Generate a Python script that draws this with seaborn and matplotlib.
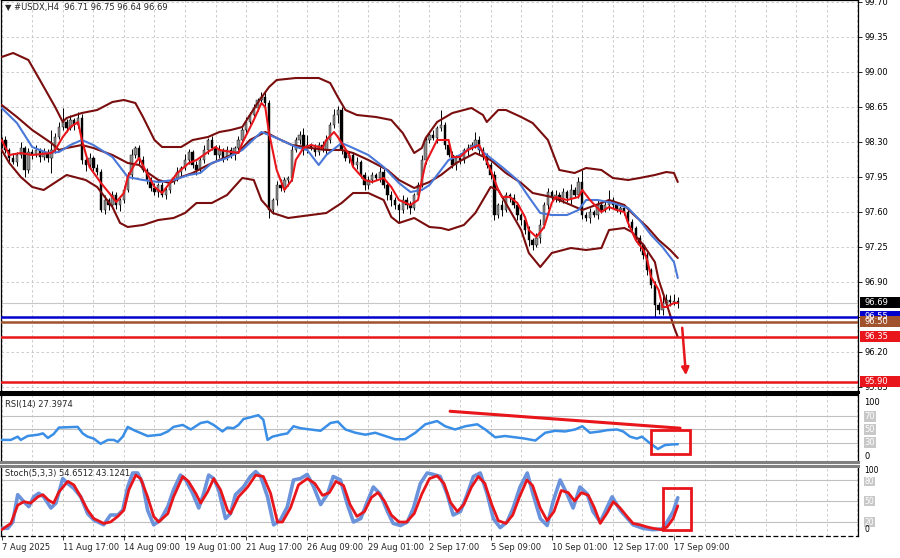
import numpy as np
import pandas as pd
import matplotlib
matplotlib.use("Agg")
import matplotlib.pyplot as plt
import seaborn as sns
from matplotlib.patches import Rectangle
from matplotlib.transforms import blended_transform_factory

# H4 closes, one per bar, 7 Aug 01:00 .. 17 Sep 13:00
closes = [
    98.32, 98.22, 98.14, 98.10, 98.17, 98.24, 98.02, 98.20,
    98.17, 98.22, 98.15, 98.20, 98.14, 98.22, 98.35, 98.45,
    98.50, 98.44, 98.52, 98.47, 98.54, 98.12, 98.07, 98.14,
    98.04, 98.00, 97.62, 97.72, 97.67, 97.77, 97.67, 97.72,
    97.82, 97.97, 98.17, 98.24, 98.12, 98.02, 97.92, 97.84,
    97.80, 97.87, 97.77, 97.82, 97.90, 97.94, 98.00, 98.04,
    98.12, 98.20, 98.07, 98.02, 98.12, 98.22, 98.32, 98.24,
    98.17, 98.22, 98.14, 98.22, 98.17, 98.24, 98.32, 98.42,
    98.50, 98.57, 98.64, 98.72, 98.75, 98.69, 97.62, 97.72,
    97.87, 97.84, 97.92, 97.94, 98.22, 98.32, 98.37, 98.22,
    98.27, 98.24, 98.20, 98.27, 98.22, 98.32, 98.47, 98.57,
    98.62, 98.22, 98.14, 98.17, 98.07, 98.10, 97.97, 97.87,
    97.92, 97.97, 97.94, 98.00, 97.87, 97.77, 97.72, 97.67,
    97.62, 97.72, 97.67, 97.64, 97.77, 97.87, 98.12, 98.32,
    98.37, 98.34, 98.44, 98.47, 98.27, 98.17, 98.07, 98.14,
    98.12, 98.22, 98.24, 98.27, 98.32, 98.22, 98.17, 98.07,
    97.97, 97.57, 97.67, 97.62, 97.77, 97.74, 97.67, 97.57,
    97.52, 97.42, 97.32, 97.27, 97.34, 97.47, 97.67, 97.80,
    97.74, 97.77, 97.72, 97.80, 97.74, 97.82, 97.77, 97.90,
    97.57, 97.54, 97.60, 97.57, 97.67, 97.62, 97.67, 97.72,
    97.67, 97.62, 97.64, 97.60, 97.50, 97.44, 97.34, 97.27,
    97.17, 97.02, 96.87, 96.67, 96.62, 96.69, 96.72, 96.70,
    96.71, 96.69,
]
first_open = 98.28
# wick lengths in hundredths
up_wick = [
    3, 4, 2, 5, 3, 6, 2, 4,
    3, 5, 2, 4, 3, 20, 4, 5,
    14, 3, 5, 2, 6, 4, 3, 5,
    2, 4, 3, 5, 2, 4, 3, 2,
    4, 3, 6, 2, 3, 4, 2, 3,
    5, 2, 3, 4, 2, 3, 5, 2,
    6, 3, 2, 4, 3, 5, 2, 4,
    3, 5, 2, 4, 3, 2, 4, 3,
    5, 3, 4, 2, 5, 6, 3, 2,
    4, 6, 3, 2, 5, 3, 4, 7,
    10, 2, 4, 3, 4, 5, 3, 6,
    4, 3, 2, 4, 3, 5, 2, 3,
    4, 3, 2, 5, 3, 2, 4, 3,
    2, 5, 3, 4, 2, 3, 5, 4,
    3, 5, 2, 15, 3, 2, 4, 3,
    5, 2, 4, 3, 8, 4, 3, 2,
    3, 4, 2, 5, 3, 2, 4, 3,
    2, 3, 4, 2, 5, 6, 3, 4,
    2, 5, 3, 4, 2, 6, 3, 5,
    12, 3, 4, 2, 5, 3, 4, 10,
    3, 3, 2, 4, 2, 3, 2, 3,
    2, 3, 2, 4, 3, 8, 6, 5,
    7, 4,
]
dn_wick = [
    4, 3, 5, 2, 4, 3, 7, 3,
    4, 2, 5, 3, 4, 15, 3, 2,
    3, 4, 2, 5, 3, 4, 6, 3,
    4, 3, 2, 4, 5, 3, 4, 6,
    3, 2, 4, 3, 5, 2, 4, 3,
    3, 5, 2, 4, 3, 2, 3, 4,
    2, 4, 3, 5, 2, 3, 4, 2,
    5, 3, 4, 2, 3, 5, 2, 4,
    3, 2, 4, 3, 2, 3, 8, 4,
    5, 3, 4, 6, 3, 2, 4, 5,
    3, 2, 4, 3, 2, 4, 3, 3,
    8, 4, 3, 5, 2, 4, 3, 5,
    4, 3, 2, 4, 3, 5, 6, 4,
    12, 3, 4, 6, 2, 3, 2, 4,
    3, 2, 5, 3, 4, 2, 3, 5,
    4, 3, 6, 2, 3, 4, 5, 3,
    4, 5, 3, 6, 2, 4, 3, 5,
    5, 4, 6, 5, 2, 5, 3, 4,
    3, 4, 2, 3, 4, 6, 2, 3,
    4, 3, 5, 2, 4, 3, 2, 5,
    3, 2, 4, 3, 5, 3, 4, 6,
    4, 5, 3, 12, 4, 5, 3, 4,
    3, 5,
]

# indicator lines: (bar, value)
bb_upper = [(0, 99.15), (3, 99.19), (7, 99.12), (10, 98.92), (14, 98.65), (16, 98.50), (17, 98.54),
            (21, 98.59), (25, 98.62), (29, 98.70), (32, 98.72), (35, 98.69), (37, 98.55), (40, 98.32),
            (42, 98.25), (47, 98.25), (50, 98.32), (54, 98.35), (57, 98.40), (60, 98.42), (63, 98.45),
            (67, 98.69), (70, 98.85), (72, 98.92), (77, 98.94), (83, 98.94), (86, 98.89), (88, 98.75),
            (90, 98.62), (93, 98.57), (98, 98.55), (102, 98.52), (105, 98.39), (108, 98.19), (110, 98.24),
            (111, 98.34), (114, 98.50), (118, 98.59), (123, 98.64), (126, 98.57), (127, 98.50),
            (130, 98.62), (132, 98.62), (136, 98.55), (139, 98.49), (143, 98.32), (146, 98.02),
            (150, 97.99), (153, 98.04), (157, 98.02), (160, 97.94), (164, 97.92), (167, 97.94),
            (171, 97.97), (174, 98.00), (176, 97.99), (177, 97.90)]
bb_middle = [(0, 98.67), (4, 98.55), (8, 98.42), (13, 98.29), (15, 98.22), (17, 98.24), (21, 98.27),
             (24, 98.24), (29, 98.17), (33, 98.09), (36, 98.07), (38, 98.00), (41, 97.92), (44, 97.89),
             (47, 97.95), (50, 97.99), (54, 98.07), (57, 98.12), (62, 98.20), (65, 98.32), (69, 98.40),
             (72, 98.34), (76, 98.27), (81, 98.24), (85, 98.22), (89, 98.22), (92, 98.19), (96, 98.12),
             (101, 98.02), (104, 97.92), (108, 97.84), (110, 97.87), (112, 97.90), (115, 97.97),
             (119, 98.09), (124, 98.19), (128, 98.12), (132, 97.99), (136, 97.89), (139, 97.79),
             (144, 97.75), (149, 97.67), (152, 97.62), (157, 97.69), (159, 97.72), (163, 97.67),
             (165, 97.59), (169, 97.45), (172, 97.32), (175, 97.22), (177, 97.14)]
bb_lower = [(0, 98.22), (2, 98.09), (5, 97.95), (8, 97.85), (11, 97.82), (15, 97.92), (17, 97.97),
            (22, 97.92), (25, 97.85), (29, 97.65), (31, 97.49), (33, 97.45), (37, 97.47), (41, 97.52),
            (45, 97.54), (48, 97.59), (51, 97.69), (55, 97.69), (59, 97.77), (63, 97.94), (66, 97.92),
            (68, 97.72), (71, 97.59), (75, 97.54), (81, 97.57), (85, 97.59), (89, 97.69), (92, 97.79),
            (96, 97.79), (100, 97.72), (102, 97.55), (104, 97.49), (108, 97.54), (112, 97.45),
            (115, 97.44), (117, 97.42), (121, 97.47), (124, 97.59), (128, 97.85), (130, 97.82),
            (133, 97.62), (136, 97.42), (138, 97.19), (141, 97.05), (144, 97.19), (149, 97.24),
            (153, 97.22), (157, 97.24), (159, 97.42), (163, 97.44), (165, 97.40), (168, 97.27),
            (171, 97.10), (172, 96.92), (174, 96.69), (176, 96.45), (177, 96.35)]
ma_fast = [(0, 98.32), (2, 98.17), (5, 98.19), (8, 98.17), (13, 98.19), (14, 98.22), (16, 98.35),
           (18, 98.45), (20, 98.50), (21, 98.32), (23, 98.05), (26, 97.89), (29, 97.75), (30, 97.70),
           (32, 97.79), (33, 97.95), (35, 98.09), (36, 98.14), (38, 97.99), (40, 97.85), (42, 97.79),
           (44, 97.89), (46, 97.99), (49, 98.09), (51, 98.12), (54, 98.20), (56, 98.25), (57, 98.22),
           (62, 98.19), (63, 98.29), (66, 98.52), (68, 98.69), (69, 98.65), (70, 98.39), (72, 98.02),
           (74, 97.82), (76, 97.92), (77, 98.12), (79, 98.24), (81, 98.27), (84, 98.24), (85, 98.32),
           (87, 98.40), (88, 98.35), (91, 98.17), (92, 98.05), (95, 97.92), (97, 97.90), (100, 97.94),
           (102, 97.85), (104, 97.72), (107, 97.67), (109, 97.72), (110, 97.92), (111, 98.09),
           (114, 98.32), (117, 98.32), (118, 98.15), (120, 98.15), (122, 98.22), (125, 98.27),
           (126, 98.19), (128, 98.02), (130, 97.82), (131, 97.75), (133, 97.75), (135, 97.69),
           (137, 97.55), (138, 97.42), (140, 97.35), (142, 97.45), (144, 97.69), (145, 97.75),
           (148, 97.72), (151, 97.75), (152, 97.82), (154, 97.72), (156, 97.64), (157, 97.60),
           (159, 97.65), (161, 97.62), (163, 97.60), (164, 97.49), (166, 97.32), (168, 97.22),
           (169, 97.12), (170, 96.95), (172, 96.82), (173, 96.65), (174, 96.65), (176, 96.69),
           (177, 96.69)]
ma_slow = [(0, 98.64), (4, 98.49), (8, 98.25), (12, 98.19), (15, 98.20), (18, 98.27), (21, 98.32),
           (24, 98.27), (29, 98.15), (33, 97.95), (37, 97.92), (41, 97.90), (45, 97.92), (49, 97.97),
           (52, 97.99), (55, 98.09), (59, 98.14), (63, 98.22), (68, 98.40), (72, 98.34), (77, 98.25),
           (80, 98.22), (83, 98.07), (85, 98.17), (89, 98.29), (92, 98.24), (96, 98.17), (100, 98.05),
           (104, 97.89), (107, 97.80), (110, 97.82), (112, 97.87), (117, 98.12), (120, 98.17),
           (124, 98.27), (126, 98.20), (131, 98.05), (135, 97.92), (138, 97.75), (141, 97.59),
           (144, 97.57), (148, 97.57), (151, 97.62), (153, 97.72), (156, 97.72), (160, 97.69),
           (164, 97.64), (167, 97.52), (170, 97.37), (173, 97.25), (176, 97.10), (177, 96.94)]

rsi = [(0, 34), (2.4, 34), (4.2, 39), (5.0, 34), (6.8, 40), (9.5, 42), (10.8, 44), (12.1, 37),
       (13.6, 43), (15.0, 53), (19.9, 54), (21.2, 44), (22.5, 39), (24.1, 36), (25.9, 28), (27.8, 34),
       (29.3, 34), (30.4, 31), (31.7, 39), (33.0, 54), (34.6, 49), (38.2, 40), (41.6, 42), (43.5, 47),
       (45.0, 54), (47.4, 57), (49.5, 50), (52.1, 60), (53.9, 62), (55.5, 57), (57.8, 47), (59.1, 53),
       (60.7, 52), (62.0, 57), (63.3, 66), (65.9, 70), (67.2, 72), (68.5, 65), (69.6, 34), (70.9, 39),
       (73.0, 42), (74.8, 44), (76.4, 55), (78.2, 52), (80.8, 50), (83.5, 48), (86.1, 60), (88.0, 62),
       (90.0, 50), (92.6, 45), (95.2, 42), (97.8, 45), (100.4, 40), (103.0, 35), (105.6, 35),
       (108.3, 45), (110.9, 58), (114.0, 63), (116.1, 55), (118.7, 50), (121.4, 55), (124.5, 58),
       (126.6, 50), (129.2, 38), (131.8, 40), (134.4, 38), (137.0, 36), (139.7, 33), (142.3, 45),
       (144.9, 48), (147.5, 47), (150.1, 50), (152.0, 55), (154.0, 45), (156.7, 47), (158.5, 49),
       (161.1, 50), (162.7, 47), (164.5, 39), (166.3, 36), (167.6, 39), (169.7, 29), (171.8, 20),
       (173.6, 26), (175.5, 27), (177.0, 27.4)]
stoch_k = [(0, 11), (1.6, 11), (2.9, 20), (4.2, 59), (5.8, 49), (7.1, 42), (8.4, 56), (9.7, 61),
           (11.0, 56), (12.9, 40), (14.2, 47), (16.0, 82), (17.3, 75), (18.9, 68), (20.7, 56),
           (22.5, 32), (24.1, 23), (26.7, 16), (28.5, 30), (30.4, 30), (31.7, 37), (33.0, 70),
           (34.3, 90), (35.6, 90), (36.9, 75), (38.2, 37), (39.8, 16), (41.6, 23), (43.5, 42),
           (45.0, 66), (46.8, 87), (48.2, 80), (50.0, 61), (51.6, 40), (52.9, 61), (54.2, 87),
           (55.5, 82), (56.8, 66), (58.6, 25), (59.9, 32), (61.2, 59), (63.3, 70), (65.1, 85),
           (66.5, 92), (67.8, 85), (69.6, 56), (71.2, 16), (73.0, 23), (74.8, 42), (76.4, 80),
           (78.2, 82), (80.0, 88), (81.7, 70), (83.5, 45), (85.3, 60), (86.8, 85), (88.7, 80),
           (90.5, 45), (92.1, 20), (94.0, 25), (95.8, 50), (97.3, 70), (99.1, 60), (101.0, 35),
           (102.5, 18), (104.4, 15), (106.2, 20), (107.8, 40), (109.6, 75), (111.4, 90), (113.0, 88),
           (114.8, 85), (116.6, 60), (118.2, 30), (120.1, 35), (121.9, 60), (123.5, 85), (125.3, 90),
           (127.1, 60), (128.7, 25), (130.5, 12), (132.3, 20), (133.9, 40), (135.7, 70), (137.6, 90),
           (139.1, 60), (141.0, 25), (142.8, 15), (144.4, 50), (146.2, 80), (148.0, 60), (149.6, 40),
           (151.4, 70), (153.3, 60), (154.8, 35), (156.7, 20), (159.8, 56), (161.9, 37), (165.3, 16),
           (167.9, 11), (170.5, 9), (172.9, 10), (174.2, 20), (175.8, 35), (177.0, 54.65)]
stoch_d = [(0, 9), (2.4, 18), (4.2, 44), (5.8, 49), (7.6, 47), (9.5, 56), (10.8, 59), (12.3, 51),
           (13.6, 47), (15.0, 63), (17.3, 78), (18.9, 73), (20.7, 56), (22.5, 37), (24.1, 25),
           (26.7, 18), (28.5, 20), (30.4, 28), (32.0, 37), (33.3, 66), (35.1, 87), (36.4, 82),
           (38.2, 56), (39.8, 28), (41.1, 20), (43.5, 32), (45.0, 56), (47.4, 85), (48.9, 78),
           (50.8, 61), (52.1, 47), (53.9, 63), (55.5, 82), (57.3, 66), (59.1, 37), (59.9, 32),
           (62.0, 56), (64.4, 70), (66.5, 87), (68.5, 85), (70.4, 61), (72.2, 20), (73.5, 20),
           (75.6, 40), (77.7, 73), (80.0, 82), (82.0, 75), (84.0, 58), (85.8, 62), (87.5, 78),
           (89.5, 72), (91.2, 45), (93.0, 28), (95.0, 35), (96.8, 55), (98.5, 62), (100.2, 50),
           (102.0, 30), (104.0, 20), (106.0, 20), (108.0, 32), (110.0, 60), (112.0, 82), (114.0, 86),
           (115.8, 75), (117.5, 48), (119.3, 35), (121.0, 45), (123.0, 70), (124.8, 85), (126.5, 75),
           (128.3, 45), (130.0, 22), (132.0, 18), (133.8, 30), (135.5, 55), (137.5, 80), (139.0, 72),
           (141.0, 40), (142.8, 22), (144.6, 35), (146.5, 65), (148.3, 62), (150.0, 50), (151.8, 62),
           (153.6, 58), (155.2, 40), (156.7, 18), (158.5, 33), (160.1, 49), (161.9, 40), (163.7, 28),
           (165.3, 18), (167.1, 16), (168.9, 13), (170.5, 11), (172.9, 9), (174.2, 13), (175.8, 25),
           (177.0, 43.12)]

price_ticks = [99.70, 99.35, 99.00, 98.65, 98.30, 97.95, 97.60, 97.25, 96.90, 96.55, 96.20, 95.85]
date_labels = ["7 Aug 2025", "11 Aug 17:00", "14 Aug 09:00", "19 Aug 01:00", "21 Aug 17:00",
               "26 Aug 09:00", "29 Aug 01:00", "2 Sep 17:00", "5 Sep 09:00", "10 Sep 01:00",
               "12 Sep 17:00", "17 Sep 09:00"]
levels = {96.55: "#0000cd", 96.50: "#a0522d", 96.35: "#e8151b", 95.90: "#e8151b"}
last_price = 96.69

sns.set_theme(style="white")
plt.rcParams['font.family'] = ['DejaVu Sans']
FS = 6

BAND = "#7a0d0d"
RED = "#e8151b"


def draw_line(ax, pts, color, lw, z=3):
    df = pd.DataFrame(pts, columns=["bar", "val"])
    sns.lineplot(data=df, x="bar", y="val", ax=ax, color=color, linewidth=lw,
                 estimator=None, sort=False, legend=False, zorder=z)
    ax.set_xlabel("")
    ax.set_ylabel("")


def base_axes(ax, ylim):
    ax.set_xlim(-0.2, 224.1)
    ax.set_ylim(*ylim)
    ax.set_facecolor("white")
    for b in range(0, 225, 8):
        ax.axvline(b, color="#c4c4c4", lw=0.6, ls=(0, (3, 3)), zorder=0)
    for s in ax.spines.values():
        s.set_color("black")
        s.set_linewidth(0.9)
    ax.tick_params(axis="x", bottom=False, labelbottom=False)
    ax.yaxis.tick_right()
    ax.tick_params(axis="y", right=True, length=3, width=0.6, labelsize=FS, pad=2, colors="black")


fig = plt.figure(figsize=(9, 5.58), dpi=100)
ax = fig.add_axes([0.001, 0.2975, 0.952, 0.7025])
ax_rsi = fig.add_axes([0.001, 0.172, 0.952, 0.1201])
ax_st = fig.add_axes([0.001, 0.0394, 0.952, 0.1255])

# ---- price panel
base_axes(ax, (95.80, 99.72))
ax.set_yticks(price_ticks)
# 96.55 is shown by the blue level box instead
ax.set_yticklabels(["" if p == 96.55 else f"{p:.2f}" for p in price_ticks])
for p in price_ticks:
    ax.axhline(p, color="#c4c4c4", lw=0.6, ls=(0, (3, 3)), zorder=0)
ax.spines["bottom"].set_linewidth(2.2)

bars = np.arange(len(closes))
c = np.array(closes)
o = np.array([first_open] + closes[:-1])
hi = np.maximum(o, c) + np.array(up_wick) / 100
lo = np.minimum(o, c) - np.array(dn_wick) / 100
bull = c >= o
ax.vlines(bars, lo, hi, color="black", lw=0.7, zorder=2)
body = np.maximum(np.abs(c - o), 0.006)
ax.bar(bars[bull], body[bull], bottom=np.minimum(o, c)[bull], width=0.62,
       color="#8f8f8f", edgecolor="black", linewidth=0.3, zorder=2)
ax.bar(bars[~bull], body[~bull], bottom=np.minimum(o, c)[~bull], width=0.62,
       color="black", edgecolor="black", linewidth=0.3, zorder=2)

draw_line(ax, bb_upper, BAND, 1.5)
draw_line(ax, bb_middle, BAND, 1.5)
draw_line(ax, bb_lower, BAND, 1.5)
draw_line(ax, ma_slow, "#4a78d8", 1.5, z=4)
draw_line(ax, ma_fast, RED, 1.5, z=5)

ax.axhline(last_price, color="#c8c8c8", lw=0.8, zorder=1)
for lvl, col in levels.items():
    ax.axhline(lvl, color=col, lw=1.8, zorder=6)

ax.annotate("", xy=(179.2, 95.94), xytext=(178.1, 96.47),
            arrowprops=dict(arrowstyle="-|>", color=RED, lw=1.8, mutation_scale=11), zorder=7)

tr = blended_transform_factory(ax.transAxes, ax.transData)
boxes = [(96.55, "#0000cd"), (96.50, "#a0522d"), (96.35, RED), (95.90, RED), (last_price, "black")]
for val, col in boxes:
    ax.add_patch(Rectangle((1.003, val - 0.055), 0.046, 0.11, transform=tr, facecolor=col,
                           edgecolor="none", clip_on=False, zorder=8))
    ax.text(1.008, val, f"{val:.2f}", transform=tr, color="white", fontsize=FS,
            va="center", ha="left", zorder=9, clip_on=False)

fig.text(0.006, 0.986, "\u25bc #USDX,H4  96.71 96.75 96.64 96.69", fontsize=FS, va="center", ha="left")

# ---- RSI panel
base_axes(ax_rsi, (0, 103))
ax_rsi.set_yticks([])
ax_rsi.tick_params(axis="y", right=False)
for lv in (70, 50, 30):
    ax_rsi.axhline(lv, color="#c0c0c0", lw=0.8, zorder=1)
draw_line(ax_rsi, rsi, "#3a8ee6", 1.8)
ax_rsi.plot([117.4, 177.6], [78, 52], color=RED, lw=2.2, zorder=6)
ax_rsi.add_patch(Rectangle((170.0, 12), 10.2, 37, fill=False, edgecolor=RED, lw=2, zorder=7))
ax_rsi.spines["top"].set_linewidth(1.5)
ax_rsi.spines["bottom"].set_color("#808080")
ax_rsi.spines["bottom"].set_linewidth(2.2)
ax_rsi.text(0.005, 0.86, "RSI(14) 27.3974", transform=ax_rsi.transAxes, fontsize=FS, va="center")
trr = blended_transform_factory(ax_rsi.transAxes, ax_rsi.transData)
for val, txt, boxed in [(92, "100", False), (70, "70", True), (50, "50", True), (30, "30", True), (8, "0", False)]:
    ax_rsi.text(1.008, val, txt, transform=trr, fontsize=FS, va="center", ha="left", clip_on=False,
                color="white" if boxed else "black",
                bbox=dict(boxstyle="square,pad=0.1", fc="#c8c8c8", ec="none") if boxed else None)

# ---- Stochastic panel
base_axes(ax_st, (0, 100))
ax_st.set_yticks([])
ax_st.tick_params(axis="y", right=False)
for lv in (80, 50, 20):
    ax_st.axhline(lv, color="#c0c0c0", lw=0.8, zorder=1)
draw_line(ax_st, stoch_k, "#6a93dc", 2.6)
draw_line(ax_st, stoch_d, RED, 2.0, z=4)
ax_st.add_patch(Rectangle((173.1, 9), 7.3, 60, fill=False, edgecolor=RED, lw=2, zorder=7))
ax_st.spines["top"].set_color("#808080")
ax_st.spines["top"].set_linewidth(2.2)
ax_st.spines["bottom"].set_linestyle((0, (3, 3)))
ax_st.text(0.005, 0.89, "Stoch(5,3,3) 54.6512 43.1241", transform=ax_st.transAxes, fontsize=FS, va="center")
trs = blended_transform_factory(ax_st.transAxes, ax_st.transData)
for val, txt, boxed in [(94, "100", False), (78, "80", True), (50, "50", True), (20, "20", True), (9, "0", False)]:
    ax_st.text(1.008, val, txt, transform=trs, fontsize=FS - 0.5, va="center", ha="left", clip_on=False,
               color="white" if boxed else "black",
               bbox=dict(boxstyle="square,pad=0.05", fc="#c8c8c8", ec="none") if boxed else None)

ax_st.set_xticks(np.arange(0, 16 * len(date_labels), 16))
ax_st.set_xticklabels(date_labels)
ax_st.tick_params(axis="x", bottom=True, labelbottom=True, length=3, width=0.6, labelsize=FS, pad=2)
for lab in ax_st.get_xticklabels():
    lab.set_horizontalalignment("left")

fig.savefig("out.png", dpi=100)
